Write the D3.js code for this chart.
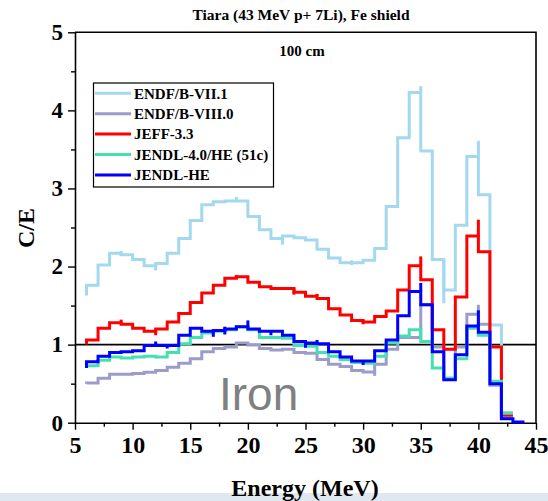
<!DOCTYPE html>
<html>
<head>
<meta charset="utf-8">
<script src="https://cdn.jsdelivr.net/npm/d3@7/dist/d3.min.js"></script>
<style>
  body { margin: 0; background: #ffffff; }
  svg { display: block; }
</style>
</head>
<body>
<svg id="chart" width="548" height="501"></svg>
<script>
// Energy bin edges (MeV); each value applies to the bin ending at that energy
const energy = [6, 7, 8, 9, 10, 11, 12, 13, 14, 15, 16, 17, 18, 19, 20, 21, 22, 23, 24, 25,
                26, 27, 28, 29, 30, 31, 32, 33, 34, 35, 36, 37, 38, 39, 40, 41, 42, 43, 44];

const endf71 = [1.63, 1.76, 2.02, 2.17, 2.15, 2.09, 2.01, 2.04, 2.17, 2.36, 2.59, 2.79, 2.83, 2.84, 2.84,
                2.64, 2.47, 2.36, 2.39, 2.37, 2.34, 2.22, 2.11, 2.05, 2.05, 2.08, 2.23, 2.77, 3.65, 4.23,
                3.48, 2.09, 1.70, 2.53, 3.41, 2.92, 1.25, 0.13];
const endf80 = [0.50, 0.51, 0.57, 0.62, 0.62, 0.63, 0.645, 0.67, 0.71, 0.76, 0.82, 0.91, 0.95, 0.97, 1.02,
                0.995, 0.95, 0.93, 0.94, 0.90, 0.89, 0.81, 0.75, 0.72, 0.67, 0.65, 0.75, 0.94, 1.09, 1.09,
                1.51, 0.97, 0.57, 0.97, 1.39, 1.26, 0.48, 0.08];
const jeff33 = [1.00, 1.06, 1.21, 1.28, 1.26, 1.21, 1.17, 1.20, 1.29, 1.40, 1.54, 1.66, 1.76, 1.85, 1.87,
                1.80, 1.74, 1.72, 1.72, 1.67, 1.62, 1.59, 1.46, 1.38, 1.31, 1.29, 1.36, 1.43, 1.70, 2.01,
                1.83, 1.19, 0.94, 1.61, 2.39, 2.19, 0.97, 0.10];
const jendl40he = [0.70, 0.73, 0.80, 0.84, 0.83, 0.84, 0.85, 0.84, 0.90, 1.01, 1.09, 1.15, 1.17, 1.19, 1.23,
                   1.19, 1.09, 1.09, 1.08, 0.99, 0.98, 0.90, 0.85, 0.81, 0.77, 0.76, 0.85, 1.02, 1.11, 1.19,
                   1.04, 0.70, 0.57, 0.82, 1.21, 1.12, 0.53, 0.12];
const jendlhe = [0.70, 0.78, 0.85, 0.90, 0.91, 0.92, 0.99, 0.99, 0.99, 1.12, 1.21, 1.17, 1.18, 1.20, 1.23,
                 1.20, 1.17, 1.17, 1.12, 1.04, 1.02, 1.01, 0.91, 0.84, 0.79, 0.79, 0.92, 1.06, 1.37, 1.68,
                 1.51, 0.91, 0.55, 0.87, 1.24, 1.16, 0.50, 0.05, 0.01];

// Uncertainties: [energy, minus, plus]
const endf71Err = [[9, 0.03, 0.03], [12, 0.06, 0], [19, 0, 0.05], [23, 0.08, 0], [29, 0.03, 0.03],
                   [35, 0, 0.08], [37, 0.56, 0], [40, 0, 0.2]];
const endf80Err = [[31, 0.05, 0], [38, 0.03, 0], [40, 0, 0.12]];
const jeff33Err = [[9, 0, 0.04], [12, 0.05, 0], [19, 0, 0.04], [24, 0.08, 0], [26, 0, 0.03],
                   [30, 0.05, 0], [35, 0, 0.12], [40, 0, 0.21]];
const jendl40heErr = [[35, 0, 0.03]];
const jendlheErr = [[12, 0, 0.05], [13, 0.04, 0], [17, 0.07, 0], [18, 0.05, 0.05], [20, 0, 0.08],
                    [22, 0.05, 0], [25, 0.08, 0], [26, 0, 0.04], [30, 0.05, 0], [35, 0, 0.11], [40, 0, 0.2]];

const seriesNames = ["ENDF/B-VII.1", "ENDF/B-VIII.0", "JEFF-3.3", "JENDL-4.0/HE (51c)", "JENDL-HE"];
const seriesColors = ["#a3d9f0", "#9c9ccb", "#ff0000", "#45e0b0", "#0000ff"];
const seriesValues = [endf71, endf80, jeff33, jendl40he, jendlhe];
const seriesErrors = [endf71Err, endf80Err, jeff33Err, jendl40heErr, jendlheErr];

const xMajor = [5, 10, 15, 20, 25, 30, 35, 40, 45];
const xMinor = [7.5, 12.5, 17.5, 22.5, 27.5, 32.5, 37.5, 42.5];
const yMajor = [0, 1, 2, 3, 4, 5];
const yMinor = [0.5, 1.5, 2.5, 3.5, 4.5];

const serif = "'Liberation Serif', 'Times New Roman', Times, serif";

const svg = d3.select("#chart");
const plot = { left: 75, right: 536, top: 32.3, bottom: 422.7 };

const x = d3.scaleLinear().domain([5, 45]).range([plot.left, plot.right]);
const y = d3.scaleLinear().domain([0, 5]).range([plot.bottom, plot.top]);

// pale strip along the bottom edge
svg.append("rect").attr("x", 0).attr("y", 493).attr("width", 548).attr("height", 8)
  .attr("fill", "#dfe7f1");

// top and right frame
svg.append("path")
  .attr("d", `M${plot.left},${plot.top}H${plot.right}V${plot.bottom}`)
  .attr("fill", "none").attr("stroke", "#000").attr("stroke-width", 1.6);

// axes
const xAxis = svg.append("g").attr("transform", `translate(0,${plot.bottom})`)
  .call(d3.axisBottom(x).tickValues(xMajor).tickSize(7).tickSizeOuter(0).tickPadding(6)
        .tickFormat(d3.format("d")));
const xAxisMinor = svg.append("g").attr("transform", `translate(0,${plot.bottom})`)
  .call(d3.axisBottom(x).tickValues(xMinor).tickSize(4).tickFormat(""));
const yAxis = svg.append("g").attr("transform", `translate(${plot.left},0)`)
  .call(d3.axisLeft(y).tickValues(yMajor).tickSize(7).tickSizeOuter(0).tickPadding(5)
        .tickFormat(d3.format("d")));
const yAxisMinor = svg.append("g").attr("transform", `translate(${plot.left},0)`)
  .call(d3.axisLeft(y).tickValues(yMinor).tickSize(4).tickFormat(""));

[xAxis, xAxisMinor, yAxis, yAxisMinor].forEach(g => {
  g.selectAll("path.domain").attr("stroke", "#000").attr("stroke-width", 1.6);
  g.selectAll(".tick line").attr("stroke", "#000").attr("stroke-width", 1.4);
});
xAxisMinor.select("path.domain").remove();
yAxisMinor.select("path.domain").remove();
xAxis.selectAll(".tick text")
  .attr("font-family", serif).attr("font-weight", "bold").attr("font-size", 24).attr("fill", "#000");
yAxis.selectAll(".tick text")
  .attr("font-family", serif).attr("font-weight", "bold").attr("font-size", 23).attr("fill", "#000");

// reference line C/E = 1
svg.append("line")
  .attr("x1", x(5)).attr("x2", x(45)).attr("y1", y(1)).attr("y2", y(1))
  .attr("stroke", "#000").attr("stroke-width", 1.6);

// "Iron" annotation
svg.append("text").attr("x", 219).attr("y", 410)
  .attr("font-family", "'Liberation Sans', Arial, sans-serif").attr("font-size", 46)
  .attr("fill", "#808080").text("Iron");

// step histograms
const line = d3.line()
  .x((d, i) => x(energy[i]))
  .y(d => y(d))
  .curve(d3.curveStepBefore);

const series = svg.append("g");
seriesValues.forEach((vals, k) => {
  const g = series.append("g");
  g.append("path").datum(vals)
    .attr("d", line)
    .attr("fill", "none")
    .attr("stroke", seriesColors[k])
    .attr("stroke-width", 3)
    .attr("stroke-linejoin", "miter");
  g.selectAll("line.err").data(seriesErrors[k]).join("line")
    .attr("class", "err")
    .attr("x1", d => x(d[0])).attr("x2", d => x(d[0]))
    .attr("y1", d => y(vals[energy.indexOf(d[0])] - d[1]))
    .attr("y2", d => y(vals[energy.indexOf(d[0])] + d[2]))
    .attr("stroke", seriesColors[k]).attr("stroke-width", 3);
});

// legend
const legend = svg.append("g");
legend.append("rect").attr("x", 93.5).attr("y", 83).attr("width", 180).attr("height", 104)
  .attr("fill", "#fff").attr("stroke", "#000").attr("stroke-width", 1.2);
seriesNames.forEach((name, k) => {
  const cy = 93.3 + k * 20.4;
  legend.append("line").attr("x1", 95).attr("x2", 131).attr("y1", cy).attr("y2", cy)
    .attr("stroke", seriesColors[k]).attr("stroke-width", 3);
  legend.append("text").attr("x", 134).attr("y", cy + 5.2)
    .attr("font-family", serif).attr("font-weight", "bold").attr("font-size", 15)
    .attr("fill", "#000").text(name);
});

// titles
svg.append("text").attr("x", 301).attr("y", 20).attr("text-anchor", "middle")
  .attr("font-family", serif).attr("font-weight", "bold").attr("font-size", 15.5)
  .text("Tiara (43 MeV p+ 7Li), Fe shield");
svg.append("text").attr("x", 302).attr("y", 56).attr("text-anchor", "middle")
  .attr("font-family", serif).attr("font-weight", "bold").attr("font-size", 15)
  .text("100 cm");

// axis titles
svg.append("text").attr("x", 305).attr("y", 496).attr("text-anchor", "middle")
  .attr("font-family", serif).attr("font-weight", "bold").attr("font-size", 24)
  .text("Energy (MeV)");
svg.append("text").attr("transform", "translate(34,228) rotate(-90)").attr("text-anchor", "middle")
  .attr("font-family", serif).attr("font-weight", "bold").attr("font-size", 24)
  .text("C/E");
</script>
</body>
</html>
